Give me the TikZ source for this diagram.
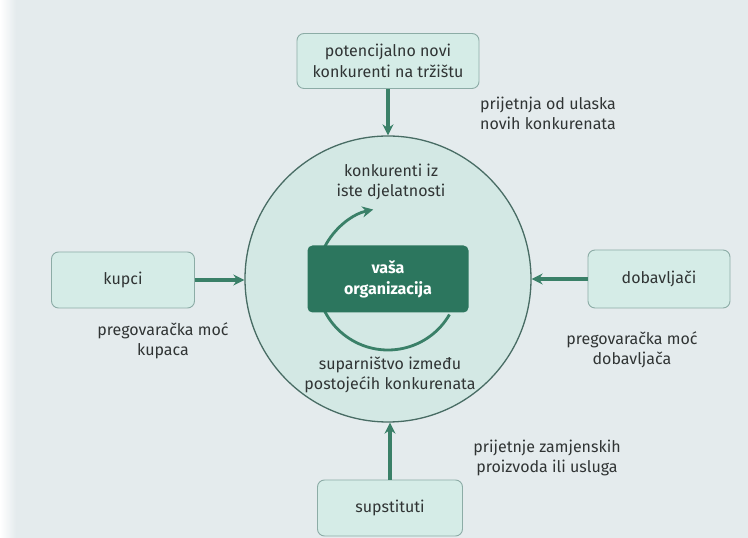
\documentclass[tikz,border=0pt]{standalone}
\usepackage{fontspec}
\setmainfont{Fira Sans}
\usetikzlibrary{arrows.meta}
\definecolor{pagebg}{RGB}{228,235,237}
\definecolor{ringfill}{RGB}{211,232,228}
\definecolor{ringline}{RGB}{72,108,100}
\definecolor{boxfill}{RGB}{213,236,231}
\definecolor{boxline}{RGB}{140,172,166}
\definecolor{orgfill}{RGB}{44,118,94}
\definecolor{arrowc}{RGB}{58,128,104}
\definecolor{txt}{RGB}{48,52,52}

\begin{document}
\begin{tikzpicture}[x=1pt,y=1pt,
  force/.style={draw=boxline, fill=boxfill, line width=0.9pt, rounded corners=7pt,
    minimum width=143pt, minimum height=56pt, align=center, text=txt,
    font=\fontsize{16}{21}\selectfont},
  lbl/.style={align=center, text=txt, font=\fontsize{16}{20}\selectfont},
  push/.style={draw=arrowc, line width=3.2pt, -{Stealth[length=11pt,width=11pt]}}]
	%%%%% START %%%%%
	
	\fill[pagebg] (0,0) rectangle (748,538);
	\shade[left color=white, right color=pagebg] (0,0) rectangle (16,538);
	\useasboundingbox (0,0) rectangle (748,538);
	
	\node[circle, draw=ringline, fill=ringfill, line width=1.3pt, minimum size=286pt] (ring) at (388,259) {};
	
	\coordinate (mid) at (388,259);
	\draw[push, line width=2.8pt] (mid) ++(-30:71) arc[start angle=-30, end angle=-258, radius=71];
	\node[fill=orgfill, rounded corners=5pt, minimum width=161pt, minimum height=67pt,
	  align=center, text=white, font=\fontsize{16}{21}\selectfont\bfseries] (org) at (mid) {vaša\\organizacija};
	
	\node[lbl] (rivals) at (391,356) {konkurenti iz\\iste djelatnosti};
	\node[lbl] (rivalry) at (390,163) {suparništvo između\\postojećih konkurenata};
	
	\node[force, minimum width=182pt, minimum height=55pt] (entrants) at (388,477) {potencijalno novi\\konkurenti na tržištu};
	\node[force] (buyers) at (123,258) {kupci};
	\node[force, minimum width=142pt, minimum height=58pt] (suppliers) at (659,259) {dobavljači};
	\node[force, minimum width=145pt] (subst) at (390,30) {supstituti};
	
	\draw[push] (entrants.south) -- (ring.north);
	\draw[push] (buyers.east) -- (buyers.east -| ring.west);
	\draw[push] (suppliers.west) -- (suppliers.west -| ring.east);
	\draw[push] (subst.north) -- (subst.north |- ring.south);
	
	\node[lbl] (threatnew) at (548,425) {prijetnja od ulaska\\novih konkurenata};
	\node[lbl] (powerbuy) at (163,197) {pregovaračka moć\\kupaca};
	\node[lbl] (powersup) at (632,188) {pregovaračka moć\\dobavljača};
	\node[lbl] (threatsub) at (547,80) {prijetnje zamjenskih\\proizvoda ili usluga};
	
	%%%%% END %%%%%
\end{tikzpicture}
\end{document}
